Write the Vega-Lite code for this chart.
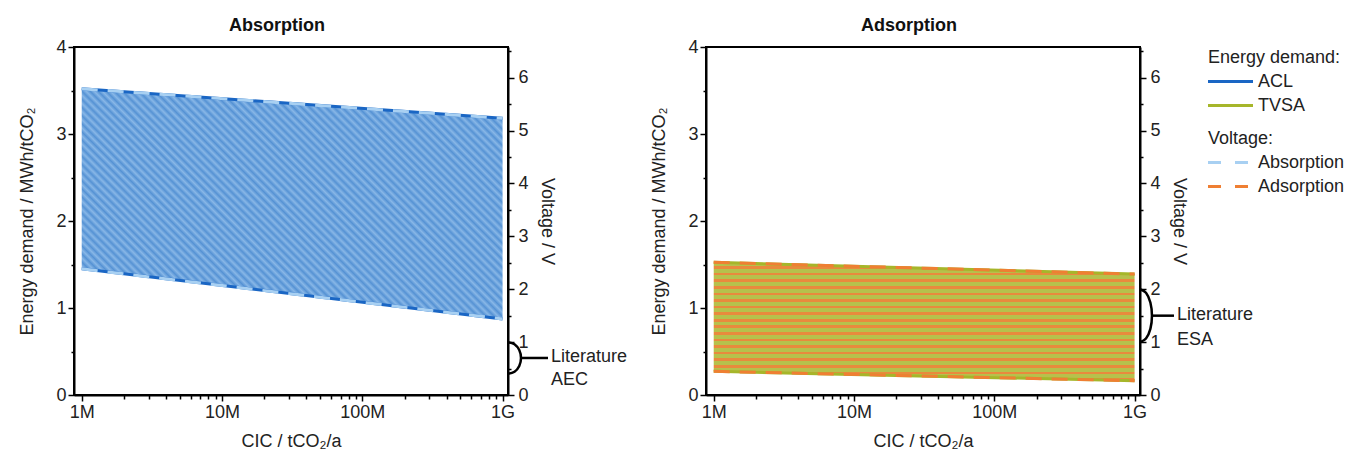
{
  "$schema": "https://vega.github.io/schema/vega-lite/v6.json",
  "padding": {"left": 17, "top": 16, "right": 2, "bottom": 5},
  "bounds": "flush",
  "spacing": 198,
  "config": {
    "font": "Liberation Sans",
    "view": {"stroke": "#000", "strokeWidth": 2},
    "axis": {"domainColor": "#000", "domainWidth": 2, "tickColor": "#000", "tickWidth": 1.5, "labelFont": "Liberation Sans", "labelFontSize": 18, "labelColor": "#222", "titleFont": "Liberation Sans", "titleFontSize": 18, "titleFontWeight": "normal", "titleColor": "#222", "grid": false, "labelFlush": false, "labelOverlap": false},
    "legend": {"titleFont": "Liberation Sans", "titleFontSize": 18, "titleFontWeight": "normal", "titleColor": "#222", "labelFont": "Liberation Sans", "labelFontSize": 18, "labelColor": "#222", "rowPadding": 4, "titlePadding": 4, "labelOffset": 17, "symbolOffset": 12},
    "title": {"font": "Liberation Sans", "fontSize": 18, "fontWeight": "bold", "color": "#111", "anchor": "middle", "frame": "group", "dx": -14, "offset": 3}
  },
  "datasets": {
    "absBand": [{"cic": 1000000, "top": 3.52, "bot": 1.45}, {"cic": 1000000000, "top": 3.18, "bot": 0.874}],
    "absEdge": [
      {"cic": 1000000, "e": 3.52, "edge": "top", "energy": "ACL", "volt": "Absorption"},
      {"cic": 1000000000, "e": 3.18, "edge": "top", "energy": "ACL", "volt": "Absorption"},
      {"cic": 1000000, "e": 1.45, "edge": "bot", "energy": "ACL", "volt": "Absorption"},
      {"cic": 1000000000, "e": 0.874, "edge": "bot", "energy": "ACL", "volt": "Absorption"}
    ],
    "adsBand": [{"cic": 1000000, "top": 1.525, "bot": 0.272}, {"cic": 1000000000, "top": 1.39, "bot": 0.164}],
    "adsEdge": [
      {"cic": 1000000, "e": 1.525, "edge": "top", "energy": "TVSA", "volt": "Adsorption"},
      {"cic": 1000000000, "e": 1.39, "edge": "top", "energy": "TVSA", "volt": "Adsorption"},
      {"cic": 1000000, "e": 0.272, "edge": "bot", "energy": "TVSA", "volt": "Adsorption"},
      {"cic": 1000000000, "e": 0.164, "edge": "bot", "energy": "TVSA", "volt": "Adsorption"}
    ],
    "absBracket": [
      {"i": 0, "cic": 1093000000, "v": 1.0},
      {"i": 1, "cic": 1216000000, "v": 0.96},
      {"i": 2, "cic": 1315000000, "v": 0.85},
      {"i": 3, "cic": 1353000000, "v": 0.70},
      {"i": 4, "cic": 1315000000, "v": 0.55},
      {"i": 5, "cic": 1216000000, "v": 0.44},
      {"i": 6, "cic": 1093000000, "v": 0.40}
    ],
    "absStub": [{"cic": 1353000000, "v": 0.70}, {"cic": 2107000000, "v": 0.70}],
    "absNote": [{"cic": 2107000000, "v": 0.72, "label": "Literature\nAEC"}],
    "adsBracket": [
      {"i": 0, "cic": 1093000000, "v": 2.0},
      {"i": 1, "cic": 1206000000, "v": 1.933},
      {"i": 2, "cic": 1296000000, "v": 1.75},
      {"i": 3, "cic": 1330000000, "v": 1.5},
      {"i": 4, "cic": 1296000000, "v": 1.25},
      {"i": 5, "cic": 1206000000, "v": 1.067},
      {"i": 6, "cic": 1093000000, "v": 1.0}
    ],
    "adsStub": [{"cic": 1330000000, "v": 1.5}, {"cic": 1909000000, "v": 1.5}],
    "adsNote": [{"cic": 1909000000, "v": 1.51, "label": "Literature\nESA"}]
  },
  "hconcat": [
    {
      "width": 434,
      "height": 348,
      "title": "Absorption",
      "encoding": {
        "x": {"field": "cic", "type": "quantitative", "scale": {"type": "log", "domain": [881000, 1093000000], "nice": false},
          "axis": {"title": "CIC / tCO₂/a", "titlePadding": 11,
            "values": [1000000, 2000000, 3000000, 4000000, 5000000, 6000000, 7000000, 8000000, 9000000, 10000000, 20000000, 30000000, 40000000, 50000000, 60000000, 70000000, 80000000, 90000000, 100000000, 200000000, 300000000, 400000000, 500000000, 600000000, 700000000, 800000000, 900000000, 1000000000],
            "labelExpr": "datum.value == 1000000 ? '1M' : datum.value == 10000000 ? '10M' : datum.value == 100000000 ? '100M' : datum.value == 1000000000 ? '1G' : ''",
            "tickSize": {"condition": {"test": "datum.value == 1000000 || datum.value == 10000000 || datum.value == 100000000 || datum.value == 1000000000", "value": 6}, "value": 4}}}
      },
      "layer": [
        {
          "data": {"name": "absBand"},
          "mark": {"type": "area", "fill": {"gradient": "linear", "x1": 0, "y1": 1, "x2": 1.1908, "y2": 0.3489, "stops": [
            {"offset": 0, "color": "#5592d4"}, {"offset": 0.00625, "color": "#88b7e7"}, {"offset": 0.0125, "color": "#5592d4"}, {"offset": 0.01875, "color": "#88b7e7"}, {"offset": 0.025, "color": "#5592d4"}, {"offset": 0.03125, "color": "#88b7e7"}, {"offset": 0.0375, "color": "#5592d4"}, {"offset": 0.04375, "color": "#88b7e7"}, {"offset": 0.05, "color": "#5592d4"}, {"offset": 0.05625, "color": "#88b7e7"}, {"offset": 0.0625, "color": "#5592d4"}, {"offset": 0.06875, "color": "#88b7e7"}, {"offset": 0.075, "color": "#5592d4"}, {"offset": 0.08125, "color": "#88b7e7"}, {"offset": 0.0875, "color": "#5592d4"}, {"offset": 0.09375, "color": "#88b7e7"},
            {"offset": 0.1, "color": "#5592d4"}, {"offset": 0.10625, "color": "#88b7e7"}, {"offset": 0.1125, "color": "#5592d4"}, {"offset": 0.11875, "color": "#88b7e7"}, {"offset": 0.125, "color": "#5592d4"}, {"offset": 0.13125, "color": "#88b7e7"}, {"offset": 0.1375, "color": "#5592d4"}, {"offset": 0.14375, "color": "#88b7e7"}, {"offset": 0.15, "color": "#5592d4"}, {"offset": 0.15625, "color": "#88b7e7"}, {"offset": 0.1625, "color": "#5592d4"}, {"offset": 0.16875, "color": "#88b7e7"}, {"offset": 0.175, "color": "#5592d4"}, {"offset": 0.18125, "color": "#88b7e7"}, {"offset": 0.1875, "color": "#5592d4"}, {"offset": 0.19375, "color": "#88b7e7"},
            {"offset": 0.2, "color": "#5592d4"}, {"offset": 0.20625, "color": "#88b7e7"}, {"offset": 0.2125, "color": "#5592d4"}, {"offset": 0.21875, "color": "#88b7e7"}, {"offset": 0.225, "color": "#5592d4"}, {"offset": 0.23125, "color": "#88b7e7"}, {"offset": 0.2375, "color": "#5592d4"}, {"offset": 0.24375, "color": "#88b7e7"}, {"offset": 0.25, "color": "#5592d4"}, {"offset": 0.25625, "color": "#88b7e7"}, {"offset": 0.2625, "color": "#5592d4"}, {"offset": 0.26875, "color": "#88b7e7"}, {"offset": 0.275, "color": "#5592d4"}, {"offset": 0.28125, "color": "#88b7e7"}, {"offset": 0.2875, "color": "#5592d4"}, {"offset": 0.29375, "color": "#88b7e7"},
            {"offset": 0.3, "color": "#5592d4"}, {"offset": 0.30625, "color": "#88b7e7"}, {"offset": 0.3125, "color": "#5592d4"}, {"offset": 0.31875, "color": "#88b7e7"}, {"offset": 0.325, "color": "#5592d4"}, {"offset": 0.33125, "color": "#88b7e7"}, {"offset": 0.3375, "color": "#5592d4"}, {"offset": 0.34375, "color": "#88b7e7"}, {"offset": 0.35, "color": "#5592d4"}, {"offset": 0.35625, "color": "#88b7e7"}, {"offset": 0.3625, "color": "#5592d4"}, {"offset": 0.36875, "color": "#88b7e7"}, {"offset": 0.375, "color": "#5592d4"}, {"offset": 0.38125, "color": "#88b7e7"}, {"offset": 0.3875, "color": "#5592d4"}, {"offset": 0.39375, "color": "#88b7e7"},
            {"offset": 0.4, "color": "#5592d4"}, {"offset": 0.40625, "color": "#88b7e7"}, {"offset": 0.4125, "color": "#5592d4"}, {"offset": 0.41875, "color": "#88b7e7"}, {"offset": 0.425, "color": "#5592d4"}, {"offset": 0.43125, "color": "#88b7e7"}, {"offset": 0.4375, "color": "#5592d4"}, {"offset": 0.44375, "color": "#88b7e7"}, {"offset": 0.45, "color": "#5592d4"}, {"offset": 0.45625, "color": "#88b7e7"}, {"offset": 0.4625, "color": "#5592d4"}, {"offset": 0.46875, "color": "#88b7e7"}, {"offset": 0.475, "color": "#5592d4"}, {"offset": 0.48125, "color": "#88b7e7"}, {"offset": 0.4875, "color": "#5592d4"}, {"offset": 0.49375, "color": "#88b7e7"},
            {"offset": 0.5, "color": "#5592d4"}, {"offset": 0.50625, "color": "#88b7e7"}, {"offset": 0.5125, "color": "#5592d4"}, {"offset": 0.51875, "color": "#88b7e7"}, {"offset": 0.525, "color": "#5592d4"}, {"offset": 0.53125, "color": "#88b7e7"}, {"offset": 0.5375, "color": "#5592d4"}, {"offset": 0.54375, "color": "#88b7e7"}, {"offset": 0.55, "color": "#5592d4"}, {"offset": 0.55625, "color": "#88b7e7"}, {"offset": 0.5625, "color": "#5592d4"}, {"offset": 0.56875, "color": "#88b7e7"}, {"offset": 0.575, "color": "#5592d4"}, {"offset": 0.58125, "color": "#88b7e7"}, {"offset": 0.5875, "color": "#5592d4"}, {"offset": 0.59375, "color": "#88b7e7"},
            {"offset": 0.6, "color": "#5592d4"}, {"offset": 0.60625, "color": "#88b7e7"}, {"offset": 0.6125, "color": "#5592d4"}, {"offset": 0.61875, "color": "#88b7e7"}, {"offset": 0.625, "color": "#5592d4"}, {"offset": 0.63125, "color": "#88b7e7"}, {"offset": 0.6375, "color": "#5592d4"}, {"offset": 0.64375, "color": "#88b7e7"}, {"offset": 0.65, "color": "#5592d4"}, {"offset": 0.65625, "color": "#88b7e7"}, {"offset": 0.6625, "color": "#5592d4"}, {"offset": 0.66875, "color": "#88b7e7"}, {"offset": 0.675, "color": "#5592d4"}, {"offset": 0.68125, "color": "#88b7e7"}, {"offset": 0.6875, "color": "#5592d4"}, {"offset": 0.69375, "color": "#88b7e7"},
            {"offset": 0.7, "color": "#5592d4"}, {"offset": 0.70625, "color": "#88b7e7"}, {"offset": 0.7125, "color": "#5592d4"}, {"offset": 0.71875, "color": "#88b7e7"}, {"offset": 0.725, "color": "#5592d4"}, {"offset": 0.73125, "color": "#88b7e7"}, {"offset": 0.7375, "color": "#5592d4"}, {"offset": 0.74375, "color": "#88b7e7"}, {"offset": 0.75, "color": "#5592d4"}, {"offset": 0.75625, "color": "#88b7e7"}, {"offset": 0.7625, "color": "#5592d4"}, {"offset": 0.76875, "color": "#88b7e7"}, {"offset": 0.775, "color": "#5592d4"}, {"offset": 0.78125, "color": "#88b7e7"}, {"offset": 0.7875, "color": "#5592d4"}, {"offset": 0.79375, "color": "#88b7e7"},
            {"offset": 0.8, "color": "#5592d4"}, {"offset": 0.80625, "color": "#88b7e7"}, {"offset": 0.8125, "color": "#5592d4"}, {"offset": 0.81875, "color": "#88b7e7"}, {"offset": 0.825, "color": "#5592d4"}, {"offset": 0.83125, "color": "#88b7e7"}, {"offset": 0.8375, "color": "#5592d4"}, {"offset": 0.84375, "color": "#88b7e7"}, {"offset": 0.85, "color": "#5592d4"}, {"offset": 0.85625, "color": "#88b7e7"}, {"offset": 0.8625, "color": "#5592d4"}, {"offset": 0.86875, "color": "#88b7e7"}, {"offset": 0.875, "color": "#5592d4"}, {"offset": 0.88125, "color": "#88b7e7"}, {"offset": 0.8875, "color": "#5592d4"}, {"offset": 0.89375, "color": "#88b7e7"},
            {"offset": 0.9, "color": "#5592d4"}, {"offset": 0.90625, "color": "#88b7e7"}, {"offset": 0.9125, "color": "#5592d4"}, {"offset": 0.91875, "color": "#88b7e7"}, {"offset": 0.925, "color": "#5592d4"}, {"offset": 0.93125, "color": "#88b7e7"}, {"offset": 0.9375, "color": "#5592d4"}, {"offset": 0.94375, "color": "#88b7e7"}, {"offset": 0.95, "color": "#5592d4"}, {"offset": 0.95625, "color": "#88b7e7"}, {"offset": 0.9625, "color": "#5592d4"}, {"offset": 0.96875, "color": "#88b7e7"}, {"offset": 0.975, "color": "#5592d4"}, {"offset": 0.98125, "color": "#88b7e7"}, {"offset": 0.9875, "color": "#5592d4"}, {"offset": 0.99375, "color": "#88b7e7"},
            {"offset": 1, "color": "#5592d4"}
          ]}},
          "encoding": {
            "y": {"field": "top", "type": "quantitative", "scale": {"domain": [0, 4], "nice": false},
              "axis": {"orient": "left", "title": "Energy demand / MWh/tCO₂", "titlePadding": 19, "values": [0, 0.5, 1, 1.5, 2, 2.5, 3, 3.5, 4], "labelExpr": "datum.value % 1 == 0 ? format(datum.value, 'd') : ''", "tickSize": {"condition": {"test": "datum.value % 1 != 0", "value": 3}, "value": 6}}},
            "y2": {"field": "bot"}
          }
        },
        {
          "data": {"name": "absEdge"},
          "mark": {"type": "line", "strokeWidth": 3},
          "encoding": {
            "y": {"field": "e", "type": "quantitative", "scale": {"domain": [0, 4], "nice": false}, "axis": null},
            "detail": {"field": "edge"},
            "color": {"field": "energy", "type": "nominal", "scale": {"domain": ["ACL", "TVSA"], "range": ["#1a66c4", "#a6b62a"]},
              "legend": {"title": "Energy demand:", "orient": "none", "legendX": 1134, "legendY": 2, "symbolType": "M-2.5,0H2.5", "symbolSize": 324, "symbolStrokeWidth": 3}}
          }
        },
        {
          "data": {"name": "absEdge"},
          "mark": {"type": "line", "strokeWidth": 3, "strokeDash": [16, 10]},
          "encoding": {
            "y": {"field": "e", "type": "quantitative", "scale": {"domain": [0, 4], "nice": false}, "axis": null},
            "detail": {"field": "edge"},
            "stroke": {"field": "volt", "type": "nominal", "scale": {"domain": ["Absorption", "Adsorption"], "range": ["#a8d0f2", "#ef7f33"]},
              "legend": {"title": "Voltage:", "orient": "none", "legendX": 1134, "legendY": 83, "symbolType": "M-2.5,0H2.5", "symbolSize": 324, "symbolStrokeWidth": 3, "symbolDash": [13, 14]}}
          }
        },
        {
          "data": {"name": "absBracket"},
          "mark": {"type": "line", "color": "#000", "strokeWidth": 2.5, "interpolate": "cardinal", "clip": false},
          "encoding": {
            "y": {"field": "v", "type": "quantitative", "scale": {"domain": [0, 6.58], "nice": false},
              "axis": {"orient": "right", "title": "Voltage / V", "titlePadding": 9, "labelPadding": 4, "values": [0, 0.5, 1, 1.5, 2, 2.5, 3, 3.5, 4, 4.5, 5, 5.5, 6, 6.5], "labelExpr": "datum.value % 1 == 0 ? format(datum.value, 'd') : ''", "tickSize": {"condition": {"test": "datum.value % 1 != 0", "value": 3}, "value": 6}}},
            "order": {"field": "i", "type": "quantitative"}
          }
        },
        {
          "data": {"name": "absStub"},
          "mark": {"type": "line", "color": "#000", "strokeWidth": 2.5, "clip": false},
          "encoding": {"y": {"field": "v", "type": "quantitative", "scale": {"domain": [0, 6.58], "nice": false}, "axis": null}}
        },
        {
          "data": {"name": "absNote"},
          "mark": {"type": "text", "align": "left", "baseline": "middle", "dx": 3, "fontSize": 18, "lineHeight": 23, "lineBreak": "\n", "color": "#222", "font": "Liberation Sans", "clip": false},
          "encoding": {"y": {"field": "v", "type": "quantitative", "scale": {"domain": [0, 6.58], "nice": false}, "axis": null}, "text": {"field": "label"}}
        }
      ],
      "resolve": {"scale": {"y": "independent"}, "axis": {"y": "independent"}}
    },
    {
      "width": 434,
      "height": 348,
      "title": "Adsorption",
      "encoding": {
        "x": {"field": "cic", "type": "quantitative", "scale": {"type": "log", "domain": [881000, 1093000000], "nice": false},
          "axis": {"title": "CIC / tCO₂/a", "titlePadding": 11,
            "values": [1000000, 2000000, 3000000, 4000000, 5000000, 6000000, 7000000, 8000000, 9000000, 10000000, 20000000, 30000000, 40000000, 50000000, 60000000, 70000000, 80000000, 90000000, 100000000, 200000000, 300000000, 400000000, 500000000, 600000000, 700000000, 800000000, 900000000, 1000000000],
            "labelExpr": "datum.value == 1000000 ? '1M' : datum.value == 10000000 ? '10M' : datum.value == 100000000 ? '100M' : datum.value == 1000000000 ? '1G' : ''",
            "tickSize": {"condition": {"test": "datum.value == 1000000 || datum.value == 10000000 || datum.value == 100000000 || datum.value == 1000000000", "value": 6}, "value": 4}}}
      },
      "layer": [
        {
          "data": {"name": "adsBand"},
          "mark": {"type": "area", "fill": {"gradient": "linear", "x1": 0, "y1": 0, "x2": 0, "y2": 1, "stops": [
            {"offset": 0, "color": "#b6c14c"}, {"offset": 0.0333, "color": "#b6c14c"}, {"offset": 0.0333, "color": "#e98a3d"}, {"offset": 0.0556, "color": "#e98a3d"},
            {"offset": 0.0556, "color": "#b6c14c"}, {"offset": 0.0889, "color": "#b6c14c"}, {"offset": 0.0889, "color": "#e98a3d"}, {"offset": 0.1111, "color": "#e98a3d"},
            {"offset": 0.1111, "color": "#b6c14c"}, {"offset": 0.1444, "color": "#b6c14c"}, {"offset": 0.1444, "color": "#e98a3d"}, {"offset": 0.1667, "color": "#e98a3d"},
            {"offset": 0.1667, "color": "#b6c14c"}, {"offset": 0.2, "color": "#b6c14c"}, {"offset": 0.2, "color": "#e98a3d"}, {"offset": 0.2222, "color": "#e98a3d"},
            {"offset": 0.2222, "color": "#b6c14c"}, {"offset": 0.2556, "color": "#b6c14c"}, {"offset": 0.2556, "color": "#e98a3d"}, {"offset": 0.2778, "color": "#e98a3d"},
            {"offset": 0.2778, "color": "#b6c14c"}, {"offset": 0.3111, "color": "#b6c14c"}, {"offset": 0.3111, "color": "#e98a3d"}, {"offset": 0.3333, "color": "#e98a3d"},
            {"offset": 0.3333, "color": "#b6c14c"}, {"offset": 0.3667, "color": "#b6c14c"}, {"offset": 0.3667, "color": "#e98a3d"}, {"offset": 0.3889, "color": "#e98a3d"},
            {"offset": 0.3889, "color": "#b6c14c"}, {"offset": 0.4222, "color": "#b6c14c"}, {"offset": 0.4222, "color": "#e98a3d"}, {"offset": 0.4444, "color": "#e98a3d"},
            {"offset": 0.4444, "color": "#b6c14c"}, {"offset": 0.4778, "color": "#b6c14c"}, {"offset": 0.4778, "color": "#e98a3d"}, {"offset": 0.5, "color": "#e98a3d"},
            {"offset": 0.5, "color": "#b6c14c"}, {"offset": 0.5333, "color": "#b6c14c"}, {"offset": 0.5333, "color": "#e98a3d"}, {"offset": 0.5556, "color": "#e98a3d"},
            {"offset": 0.5556, "color": "#b6c14c"}, {"offset": 0.5889, "color": "#b6c14c"}, {"offset": 0.5889, "color": "#e98a3d"}, {"offset": 0.6111, "color": "#e98a3d"},
            {"offset": 0.6111, "color": "#b6c14c"}, {"offset": 0.6444, "color": "#b6c14c"}, {"offset": 0.6444, "color": "#e98a3d"}, {"offset": 0.6667, "color": "#e98a3d"},
            {"offset": 0.6667, "color": "#b6c14c"}, {"offset": 0.7, "color": "#b6c14c"}, {"offset": 0.7, "color": "#e98a3d"}, {"offset": 0.7222, "color": "#e98a3d"},
            {"offset": 0.7222, "color": "#b6c14c"}, {"offset": 0.7556, "color": "#b6c14c"}, {"offset": 0.7556, "color": "#e98a3d"}, {"offset": 0.7778, "color": "#e98a3d"},
            {"offset": 0.7778, "color": "#b6c14c"}, {"offset": 0.8111, "color": "#b6c14c"}, {"offset": 0.8111, "color": "#e98a3d"}, {"offset": 0.8333, "color": "#e98a3d"},
            {"offset": 0.8333, "color": "#b6c14c"}, {"offset": 0.8667, "color": "#b6c14c"}, {"offset": 0.8667, "color": "#e98a3d"}, {"offset": 0.8889, "color": "#e98a3d"},
            {"offset": 0.8889, "color": "#b6c14c"}, {"offset": 0.9222, "color": "#b6c14c"}, {"offset": 0.9222, "color": "#e98a3d"}, {"offset": 0.9444, "color": "#e98a3d"},
            {"offset": 0.9444, "color": "#b6c14c"}, {"offset": 0.9778, "color": "#b6c14c"}, {"offset": 0.9778, "color": "#e98a3d"}, {"offset": 1, "color": "#e98a3d"}
          ]}},
          "encoding": {
            "y": {"field": "top", "type": "quantitative", "scale": {"domain": [0, 4], "nice": false},
              "axis": {"orient": "left", "title": "Energy demand / MWh/tCO₂", "titlePadding": 19, "values": [0, 0.5, 1, 1.5, 2, 2.5, 3, 3.5, 4], "labelExpr": "datum.value % 1 == 0 ? format(datum.value, 'd') : ''", "tickSize": {"condition": {"test": "datum.value % 1 != 0", "value": 3}, "value": 6}}},
            "y2": {"field": "bot"}
          }
        },
        {
          "data": {"name": "adsEdge"},
          "mark": {"type": "line", "strokeWidth": 3},
          "encoding": {
            "y": {"field": "e", "type": "quantitative", "scale": {"domain": [0, 4], "nice": false}, "axis": null},
            "detail": {"field": "edge"},
            "color": {"field": "energy", "type": "nominal", "scale": {"domain": ["ACL", "TVSA"], "range": ["#1a66c4", "#a6b62a"]},
              "legend": {"title": "Energy demand:", "orient": "none", "legendX": 1134, "legendY": 2, "symbolType": "M-2.5,0H2.5", "symbolSize": 324, "symbolStrokeWidth": 3}}
          }
        },
        {
          "data": {"name": "adsEdge"},
          "mark": {"type": "line", "strokeWidth": 3, "strokeDash": [16, 10]},
          "encoding": {
            "y": {"field": "e", "type": "quantitative", "scale": {"domain": [0, 4], "nice": false}, "axis": null},
            "detail": {"field": "edge"},
            "stroke": {"field": "volt", "type": "nominal", "scale": {"domain": ["Absorption", "Adsorption"], "range": ["#a8d0f2", "#ef7f33"]},
              "legend": {"title": "Voltage:", "orient": "none", "legendX": 1134, "legendY": 83, "symbolType": "M-2.5,0H2.5", "symbolSize": 324, "symbolStrokeWidth": 3, "symbolDash": [13, 14]}}
          }
        },
        {
          "data": {"name": "adsBracket"},
          "mark": {"type": "line", "color": "#000", "strokeWidth": 2.5, "interpolate": "cardinal", "clip": false},
          "encoding": {
            "y": {"field": "v", "type": "quantitative", "scale": {"domain": [0, 6.58], "nice": false},
              "axis": {"orient": "right", "title": "Voltage / V", "titlePadding": 9, "labelPadding": 4, "values": [0, 0.5, 1, 1.5, 2, 2.5, 3, 3.5, 4, 4.5, 5, 5.5, 6, 6.5], "labelExpr": "datum.value % 1 == 0 ? format(datum.value, 'd') : ''", "tickSize": {"condition": {"test": "datum.value % 1 != 0", "value": 3}, "value": 6}}},
            "order": {"field": "i", "type": "quantitative"}
          }
        },
        {
          "data": {"name": "adsStub"},
          "mark": {"type": "line", "color": "#000", "strokeWidth": 2.5, "clip": false},
          "encoding": {"y": {"field": "v", "type": "quantitative", "scale": {"domain": [0, 6.58], "nice": false}, "axis": null}}
        },
        {
          "data": {"name": "adsNote"},
          "mark": {"type": "text", "align": "left", "baseline": "middle", "dx": 3, "fontSize": 18, "lineHeight": 25, "lineBreak": "\n", "color": "#222", "font": "Liberation Sans", "clip": false},
          "encoding": {"y": {"field": "v", "type": "quantitative", "scale": {"domain": [0, 6.58], "nice": false}, "axis": null}, "text": {"field": "label"}}
        }
      ],
      "resolve": {"scale": {"y": "independent"}, "axis": {"y": "independent"}}
    }
  ]
}
